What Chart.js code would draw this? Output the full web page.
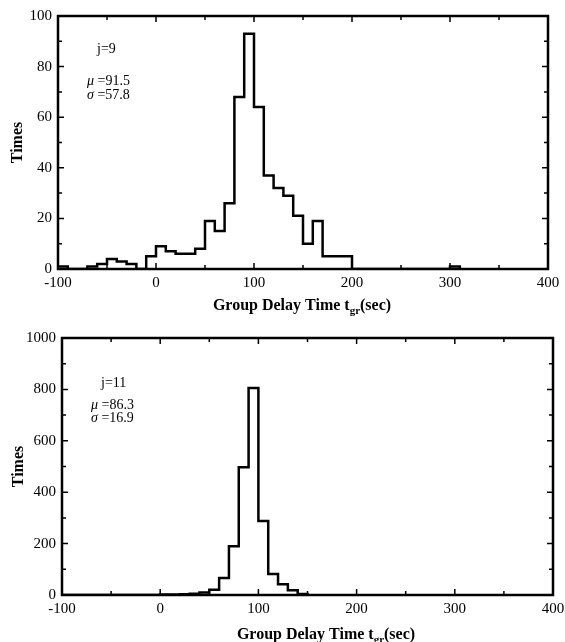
<!DOCTYPE html>
<html lang="en">
<head>
    <meta charset="UTF-8">
    <title>Group Delay Time Histograms</title>
    <style>
        body { margin: 0; background: #fff; }
        .panel { position: absolute; left: 0; width: 565px; height: 321px; }
        #top-panel { top: 0; }
        #bottom-panel { top: 321px; }
    </style>
</head>
<body>
    <div class="panel" id="top-panel"><canvas id="chartJ9" width="565" height="321"></canvas></div>
    <div class="panel" id="bottom-panel"><canvas id="chartJ11" width="565" height="321"></canvas></div>

    <script src="https://cdn.jsdelivr.net/npm/chart.js"></script>
    <script>
        // j=9 histogram: each count runs from its edge to the next edge (sec)
        const j9Edges = [-100, -90, -70, -60, -50, -40, -30, -20, -10, 0, 10, 20, 30, 40, 50, 60, 70, 80, 90, 100,
                         110, 120, 130, 140, 150, 160, 170, 200, 300, 310];
        const j9Counts = [1, 0, 1, 2, 4, 3, 2, 0, 5, 9, 7, 6, 6, 8, 19, 15, 26, 68, 93, 64,
                          37, 32, 29, 21, 10, 19, 5, 0, 1, 0];

        // j=11 histogram
        const j11Edges = [-100, 0, 20, 30, 40, 50, 60, 70, 80, 90, 100, 110, 120, 130, 140, 150];
        const j11Counts = [0, 2, 3, 5, 10, 20, 66, 190, 497, 805, 288, 82, 42, 18, 4, 0];

        // axis ticks
        const xTicks = [-100, 0, 100, 200, 300, 400];
        const xMinorTicks = [-50, 50, 150, 250, 350];
        const j9YTicks = [0, 20, 40, 60, 80, 100];
        const j9YMinorTicks = [10, 30, 50, 70, 90];
        const j11YTicks = [0, 200, 400, 600, 800, 1000];
        const j11YMinorTicks = [100, 300, 500, 700, 900];

        // stats shown in the corner
        const j9Stats = { label: 'j=9', mu: '91.5', sigma: '57.8' };
        const j11Stats = { label: 'j=11', mu: '86.3', sigma: '16.9' };

        const SERIF = '"Liberation Serif", "Times New Roman", serif';

        // frame, inward ticks on all four sides, axis titles and stats text
        const decorPlugin = {
            id: 'decor',
            afterDraw(chart, args, opts) {
                const ctx = chart.ctx;
                const ca = chart.chartArea;
                const xs = chart.scales.x;
                const ys = chart.scales.y;
                ctx.save();
                ctx.strokeStyle = '#000';
                ctx.fillStyle = '#000';

                ctx.lineWidth = 1.5;
                function xTick(v, len) {
                    const px = xs.getPixelForValue(v);
                    ctx.beginPath();
                    ctx.moveTo(px, ca.bottom); ctx.lineTo(px, ca.bottom - len);
                    ctx.moveTo(px, ca.top); ctx.lineTo(px, ca.top + len);
                    ctx.stroke();
                }
                function yTick(v, len) {
                    const py = ys.getPixelForValue(v);
                    ctx.beginPath();
                    ctx.moveTo(ca.left, py); ctx.lineTo(ca.left + len, py);
                    ctx.moveTo(ca.right, py); ctx.lineTo(ca.right - len, py);
                    ctx.stroke();
                }
                xTicks.forEach(v => xTick(v, 6));
                xMinorTicks.forEach(v => xTick(v, 4));
                opts.yTicks.forEach(v => yTick(v, 6));
                opts.yMinor.forEach(v => yTick(v, 4));

                ctx.lineWidth = 2.5;
                ctx.strokeRect(ca.left, ca.top, ca.width, ca.height);

                // y title
                ctx.font = 'bold 16px ' + SERIF;
                ctx.textAlign = 'center';
                ctx.textBaseline = 'middle';
                ctx.save();
                ctx.translate(opts.yTitleX, (ca.top + ca.bottom) / 2);
                ctx.rotate(-Math.PI / 2);
                ctx.fillText('Times', 0, 0);
                ctx.restore();

                // x title with subscript
                const main = 'Group Delay Time t';
                const sub = 'gr';
                const tail = '(sec)';
                ctx.font = 'bold 16px ' + SERIF;
                const w1 = ctx.measureText(main).width;
                const w3 = ctx.measureText(tail).width;
                ctx.font = 'bold 11px ' + SERIF;
                const w2 = ctx.measureText(sub).width;
                let tx = opts.xTitleX - (w1 + w2 + w3) / 2;
                ctx.textAlign = 'left';
                ctx.textBaseline = 'alphabetic';
                ctx.font = 'bold 16px ' + SERIF;
                ctx.fillText(main, tx, opts.xTitleY);
                ctx.font = 'bold 11px ' + SERIF;
                ctx.fillText(sub, tx + w1, opts.xTitleY + 4);
                ctx.font = 'bold 16px ' + SERIF;
                ctx.fillText(tail, tx + w1 + w2, opts.xTitleY);

                // stats
                const s = opts.stats;
                ctx.textBaseline = 'middle';
                ctx.font = '14px ' + SERIF;
                ctx.fillText(s.label, ca.left + 39, ca.top + opts.noteY[0]);
                function greekLine(sym, val, y) {
                    const x0 = ca.left + 29;
                    ctx.font = 'italic 14px ' + SERIF;
                    ctx.fillText(sym, x0, y);
                    const ws = ctx.measureText(sym).width;
                    ctx.font = '14px ' + SERIF;
                    ctx.fillText(' =' + val, x0 + ws, y);
                }
                greekLine('\u03bc', s.mu, ca.top + opts.noteY[1]);
                greekLine('\u03c3', s.sigma, ca.top + opts.noteY[2]);
                ctx.restore();
            }
        };

        function makeHistogram(canvasId, edges, counts, yMax, yTicks, yMinor, stats, geo) {
            const points = edges.map((e, i) => ({ x: e, y: counts[i] }));
            return new Chart(document.getElementById(canvasId), {
                type: 'line',
                data: {
                    datasets: [{
                        data: points,
                        stepped: 'before',
                        borderColor: '#000',
                        borderWidth: 2.5,
                        pointRadius: 0,
                        fill: false
                    }]
                },
                options: {
                    responsive: false,
                    animation: false,
                    devicePixelRatio: 1,
                    layout: { padding: { left: 0, right: geo.padRight, top: geo.padTop, bottom: 0 } },
                    plugins: {
                        legend: { display: false },
                        tooltip: { enabled: false },
                        decor: {
                            yTicks: yTicks,
                            yMinor: yMinor,
                            stats: stats,
                            yTitleX: geo.yTitleX,
                            xTitleX: geo.xTitleX,
                            xTitleY: geo.xTitleY,
                            noteY: geo.noteY
                        }
                    },
                    scales: {
                        x: {
                            type: 'linear',
                            min: -100,
                            max: 400,
                            afterBuildTicks: scale => { scale.ticks = xTicks.map(v => ({ value: v })); },
                            afterFit: scale => {
                                scale.height = geo.xHeight;
                                scale.paddingLeft = 0;
                                scale.paddingRight = 0;
                            },
                            ticks: {
                                color: '#000',
                                font: { family: SERIF, size: 15 },
                                padding: 5,
                                maxRotation: 0,
                                autoSkip: false,
                                callback: v => String(v)
                            },
                            grid: { display: false, drawTicks: false },
                            border: { display: false }
                        },
                        y: {
                            type: 'linear',
                            min: 0,
                            max: yMax,
                            afterBuildTicks: scale => { scale.ticks = yTicks.map(v => ({ value: v })); },
                            afterFit: scale => {
                                scale.width = geo.yWidth;
                                scale.paddingTop = 0;
                                scale.paddingBottom = 0;
                            },
                            ticks: {
                                color: '#000',
                                font: { family: SERIF, size: 15 },
                                padding: 6,
                                autoSkip: false,
                                callback: v => String(v)
                            },
                            grid: { display: false, drawTicks: false },
                            border: { display: false }
                        }
                    }
                },
                plugins: [decorPlugin]
            });
        }

        makeHistogram('chartJ9', j9Edges, j9Counts, 100, j9YTicks, j9YMinorTicks, j9Stats, {
            padRight: 17, padTop: 16, xHeight: 52, yWidth: 58,
            yTitleX: 18, xTitleX: 302, xTitleY: 310, noteY: [33, 65, 79]
        });

        makeHistogram('chartJ11', j11Edges, j11Counts, 1000, j11YTicks, j11YMinorTicks, j11Stats, {
            padRight: 12, padTop: 17, xHeight: 47, yWidth: 62,
            yTitleX: 19, xTitleX: 326, xTitleY: 318, noteY: [45, 67, 80]
        });
    </script>
</body>
</html>
